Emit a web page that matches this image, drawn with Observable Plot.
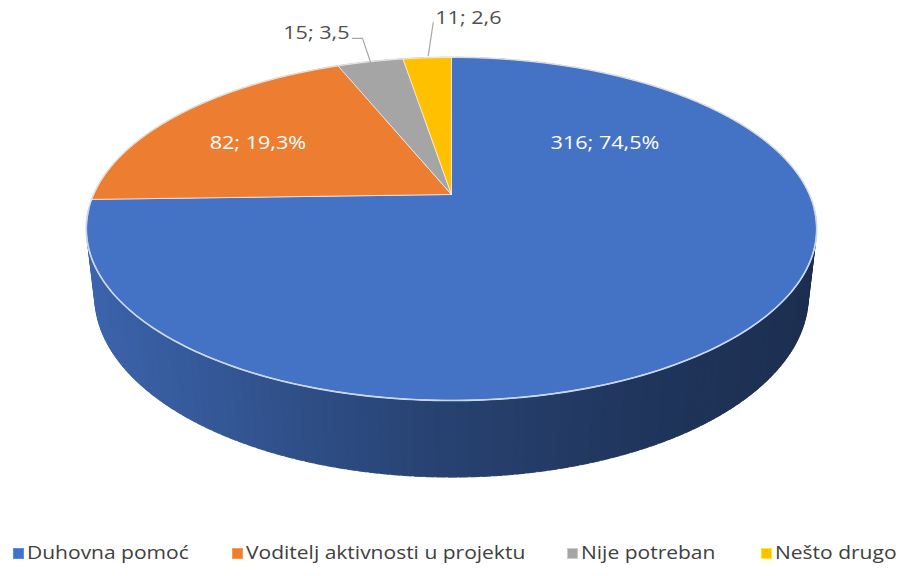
<!DOCTYPE html>
<html><head><meta charset="utf-8">
<script src="https://cdn.jsdelivr.net/npm/d3@7"></script>
<script src="https://cdn.jsdelivr.net/npm/@observablehq/plot@0.6"></script>
<style>
body{margin:0;background:#fff;font-family:"Open Sans",sans-serif;}
#chart{position:relative;width:903px;height:576px;overflow:hidden;}
#legend{position:absolute;left:0;top:540px;width:903px;height:36px;}
.item{position:absolute;top:0;height:36px;}
.sw{position:absolute;top:8px;width:9px;height:9px;}
.lt{position:absolute;top:0px;left:14px;white-space:nowrap;font-size:17.5px;color:#404040;line-height:24px;transform:scaleX(1.2);transform-origin:left center;}
</style></head><body><div id="chart"><div id="legend"></div></div>
<script>
// ---- data ----
const categories = ["Duhovna pomoć", "Voditelj aktivnosti u projektu", "Nije potreban", "Nešto drugo"];
const counts = [316, 82, 15, 11];
const percentText = ["74,5%", "19,3%", "3,5", "2,6"];
const colors = ["#4472c4", "#ed7d31", "#a5a5a5", "#ffc000"];

// ---- label placement (angle clockwise from top in degrees, radius as fraction) ----
const labelAngle = [54, 300, 345.3, 357.2];
const labelRadius = [0.566, 0.667, 1.212, 1.325];
const leaderStart = [null, null, [344.3, 1.0], [355.6, 1.02]];

// ---- 3D perspective geometry ----
const W = 903, H = 540;
const CX = 451, CY = 194, U = 4.42, SA = 0.46, CA = Math.sqrt(1 - SA * SA), F = 357.6 * U, HH = 0.213;
function project(deg, r, hh) {
  const t = deg * Math.PI / 180;
  const X = r * Math.sin(t), Z = -r * Math.cos(t);
  const yc = Z * SA + hh * CA, zc = U - Z * CA + hh * SA;
  return [CX + F * X / zc, CY + F * yc / zc];
}

const total = d3.sum(counts);
let acc = 0;
const slices = counts.map((c, i) => { const a0 = acc / total * 360; acc += c; return {i, a0, a1: acc / total * 360}; });

// top face polygons
const topRows = [];
const [cx0, cy0] = project(0, 0, 0);
slices.forEach(s => {
  topRows.push({slice: s.i, x: cx0, y: cy0, fill: colors[s.i]});
  const n = Math.max(2, Math.ceil(s.a1 - s.a0));
  for (let k = 0; k <= n; k++) {
    const [x, y] = project(s.a0 + (s.a1 - s.a0) * k / n, 1, 0);
    topRows.push({slice: s.i, x, y, fill: colors[s.i]});
  }
  topRows.push({slice: s.i, x: cx0, y: cy0, fill: colors[s.i]});
});
const outline = d3.range(0, 361, 1).map(a => { const [x, y] = project(a, 1, 0); return {x, y}; });
const [xmin, xmax] = d3.extent(outline, d => d.x);

// side strips (slightly overlapping to avoid seams)
const shade = d3.scaleLinear().domain([0, 0.25, 0.5, 0.75, 1]).range([0.88, 0.72, 0.57, 0.47, 0.41]).clamp(true);
const strips = [];
slices.forEach(s => {
  const n = Math.max(1, Math.ceil((s.a1 - s.a0) / 1.5));
  for (let k = 0; k < n; k++) {
    const a = s.a0 + (s.a1 - s.a0) * k / n, b = s.a0 + (s.a1 - s.a0) * (k + 1) / n, m = (a + b) / 2;
    const a2 = a - 0.6, b2 = b + 0.6;
    const nx = (project(m, 1, 0)[0] - xmin) / (xmax - xmin);
    const f = shade(nx), c = d3.rgb(colors[s.i]);
    const col = d3.rgb(c.r * f, c.g * f, c.b * f).formatHex();
    strips.push({depth: -Math.cos(m * Math.PI / 180), col, pts: [project(a2, 1, 0), project(b2, 1, 0), project(b2, 1, HH), project(a2, 1, HH), project(a2, 1, 0)]});
  }
});
strips.sort((u, v) => u.depth - v.depth);
const sideRows = [];
strips.forEach((st, j) => st.pts.forEach(([x, y]) => sideRows.push({id: j, x, y, fill: st.col})));

// highlight along the top front edge
const rim = d3.range(95, 266, 1).map(a => { const [x, y] = project(a, 1, 0); return {x, y}; });

// labels
const labels = counts.map((c, i) => {
  const [x, y] = project(labelAngle[i], labelRadius[i], 0);
  return {i, x, y, text: `${c}; ${percentText[i]}`, inside: leaderStart[i] === null};
});
const leaderRows = [];
labels.forEach(l => {
  if (l.inside) return;
  const [sx, sy] = project(leaderStart[l.i][0], leaderStart[l.i][1], 0);
  leaderRows.push({id: l.i, x: sx, y: sy});
  leaderRows.push({id: l.i, x: l.x, y: l.y});
  if (l.i === 2) leaderRows.push({id: l.i, x: l.x - 10, y: l.y});
});

const plot = Plot.plot({
  width: W, height: H, margin: 0,
  x: {domain: [0, W], range: [0, W], axis: null},
  y: {domain: [0, H], range: [0, H], axis: null},
  color: {type: "identity"},
  style: {fontFamily: "Open Sans", background: "white"},
  marks: [
    Plot.line(sideRows, {x: "x", y: "y", z: "id", fill: "fill", stroke: "fill", strokeWidth: 0.6, curve: "linear"}),
    Plot.line(outline, {x: "x", y: "y", stroke: "#d6d6d6", strokeWidth: 2, fill: "none"}),
    Plot.line(topRows, {x: "x", y: "y", z: "slice", fill: "fill", stroke: "#f4f4f4", strokeWidth: 0.9, strokeOpacity: 0.8, curve: "linear"}),
    Plot.line(rim, {x: "x", y: "y", stroke: "#c6d6f0", strokeWidth: 1.3}),
    Plot.line(leaderRows, {x: "x", y: "y", z: "id", stroke: "#a6a6a6", strokeWidth: 1.2}),
    Plot.text(labels.filter(d => d.inside), {x: "x", y: "y", text: "text", fill: "white", fontSize: 18, textAnchor: "middle", className: "lab"}),
    Plot.text(labels.filter(d => d.i === 2), {x: d => d.x - 13, y: "y", dy: -5, text: "text", fill: "#505050", fontSize: 18, textAnchor: "end", className: "lab"}),
    Plot.text(labels.filter(d => d.i === 3), {x: d => d.x + 2, y: "y", dy: -4, text: "text", fill: "#505050", fontSize: 18, textAnchor: "start", className: "lab"})
  ]
});
const chart = document.getElementById("chart");
chart.insertBefore(plot, chart.firstChild);
d3.select(plot).selectAll("g.lab text, .lab text").each(function() {
  const len = this.getComputedTextLength();
  this.setAttribute("textLength", len * 1.2);
  this.setAttribute("lengthAdjust", "spacingAndGlyphs");
});

// legend
const legendX = [13, 232, 567, 761];
const legend = document.getElementById("legend");
categories.forEach((cat, i) => {
  const it = document.createElement("div");
  it.className = "item"; it.style.left = legendX[i] + "px";
  const sw = document.createElement("div"); sw.className = "sw";
  const c = d3.rgb(colors[i]);
  sw.style.background = colors[i]; sw.style.border = "1px solid " + c.brighter(0.6).formatHex();
  const t = document.createElement("span"); t.className = "lt"; t.textContent = cat;
  it.appendChild(sw); it.appendChild(t); legend.appendChild(it);
});
</script></body></html>
